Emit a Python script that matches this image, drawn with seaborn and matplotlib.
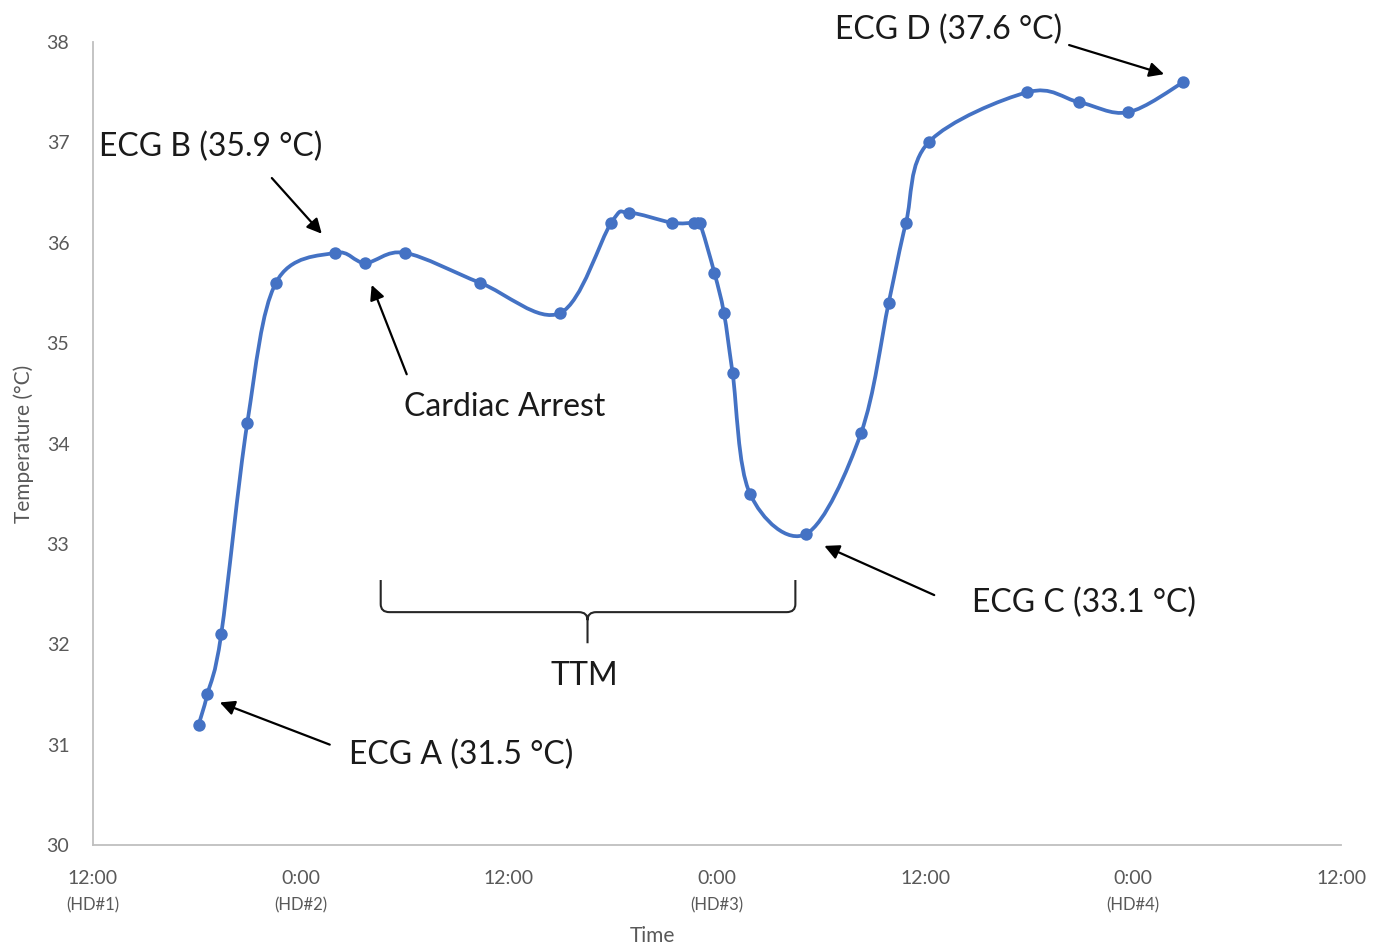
import numpy as np
import matplotlib
matplotlib.use("Agg")
import matplotlib.pyplot as plt
from matplotlib.path import Path
from matplotlib.patches import PathPatch
import seaborn as sns
import pandas as pd

# ---- data (hours since 12:00 of HD#1, temperature in °C) ----
hours = [6.1, 6.6, 7.4, 8.9, 10.55, 13.95, 15.7, 18.0, 22.35, 26.95, 29.9, 30.9,
         33.4, 34.7, 35.0, 35.85, 36.4, 36.9, 37.9, 41.15, 44.3, 45.9, 46.9, 48.2,
         53.9, 56.9, 59.7, 62.9]
temps = [31.2, 31.5, 32.1, 34.2, 35.6, 35.9, 35.8, 35.9, 35.6, 35.3, 36.2, 36.3,
         36.2, 36.2, 36.2, 35.7, 35.3, 34.7, 33.5, 33.1, 34.1, 35.4, 36.2, 37.0,
         37.5, 37.4, 37.3, 37.6]
tick_hours = [0, 12, 24, 36, 48, 60, 72]
tick_labels = ["12:00", "0:00", "12:00", "0:00", "12:00", "0:00", "12:00"]
day_hours = [0, 12, 36, 60]
day_labels = ["(HD#1)", "(HD#2)", "(HD#3)", "(HD#4)"]

df = pd.DataFrame({"hours": hours, "temp": temps})

sns.set_theme(style="white")
plt.rcParams["font.family"] = ["Lato", "DejaVu Sans"]

BLUE = "#4472C4"
GREY = "#595959"

fig = plt.figure(figsize=(13.85, 9.49), dpi=100)
ax = fig.add_axes([0.0671, 0.1096, 0.9012, 0.8461])

# smoothed line (Catmull-Rom style Bezier through the data points, like Excel)
P = np.column_stack([df["hours"].to_numpy(), df["temp"].to_numpy()])
verts = [P[0]]
codes = [Path.MOVETO]
n = len(P)
for i in range(n - 1):
    p0 = P[i - 1] if i > 0 else P[i]
    p1 = P[i]
    p2 = P[i + 1]
    p3 = P[i + 2] if i + 2 < n else P[i + 1]
    c1 = p1 + (p2 - p0) / 6.0
    c2 = p2 - (p3 - p1) / 6.0
    verts += [c1, c2, p2]
    codes += [Path.CURVE4] * 3
ax.add_patch(PathPatch(Path(verts, codes), fill=False, edgecolor=BLUE, lw=2.7,
                       capstyle="round", joinstyle="round", zorder=2))

sns.scatterplot(data=df, x="hours", y="temp", ax=ax, color=BLUE, s=80,
                edgecolor=BLUE, linewidth=0, zorder=3, legend=False)

ax.set_xlim(0, 72)
ax.set_ylim(30, 38)
ax.set_xticks(tick_hours)
ax.set_xticklabels(tick_labels)
ax.set_yticks(range(30, 39))
ax.tick_params(axis="both", length=0, labelsize=14, labelcolor=GREY)
ax.tick_params(axis="x", pad=18)
ax.tick_params(axis="y", pad=17)
for s in ["top", "right"]:
    ax.spines[s].set_visible(False)
for s in ["left", "bottom"]:
    ax.spines[s].set_color("#BFBFBF")
    ax.spines[s].set_linewidth(1.3)

for h, lab in zip(day_hours, day_labels):
    ax.annotate(lab, xy=(h, 0), xycoords=("data", "axes fraction"),
                xytext=(0, -60), textcoords="offset pixels", ha="center",
                va="center", fontsize=12, color=GREY)

ax.set_xlabel("Time", fontsize=15, color=GREY)
ax.set_ylabel("Temperature (°C)", fontsize=15, color=GREY)
ax.xaxis.set_label_coords(0.448, -0.101)
ax.yaxis.set_label_coords(-0.047, 0.5)

arrow = dict(arrowstyle="-|>", color="black", lw=1.6, mutation_scale=22,
             shrinkA=0, shrinkB=0)
TXT = dict(fontsize=23, color="#1a1a1a", ha="center", va="center")

ax.annotate("", xy=(7.32, 31.42), xytext=(13.66, 31.0), arrowprops=arrow)
ax.text(21.27, 30.9, "ECG A (31.5 °C)", **TXT)

ax.annotate("", xy=(13.2, 36.09), xytext=(10.32, 36.645), arrowprops=arrow)
ax.text(6.8, 36.95, "ECG B (35.9 °C)", **TXT)

ax.annotate("", xy=(16.08, 35.58), xytext=(18.1, 34.69), arrowprops=arrow)
ax.text(23.75, 34.36, "Cardiac Arrest", **TXT)

ax.annotate("", xy=(42.19, 32.98), xytext=(48.53, 32.49), arrowprops=arrow)
ax.text(57.18, 32.41, "ECG C (33.1 °C)", **TXT)

ax.annotate("", xy=(61.79, 37.68), xytext=(56.31, 37.97), arrowprops=arrow,
            annotation_clip=False)
ax.text(49.34, 38.12, "ECG D (37.6 °C)", clip_on=False, **TXT)

# TTM curly brace
xl, xr, xm = 16.6, 40.52, 28.53
yt, yb, ytip = 32.64, 32.32, 32.01
dx = 0.5
dy = 0.08
bverts = [
    (xl, yt), (xl, yb + dy), (xl, yb), (xl + dx, yb),
    (xm - dx, yb), (xm, yb), (xm, yb - dy),
    (xm, ytip),
    (xm, yb - dy), (xm, yb), (xm + dx, yb),
    (xr - dx, yb), (xr, yb), (xr, yb + dy),
    (xr, yt),
]
bcodes = [Path.MOVETO, Path.LINETO, Path.CURVE3, Path.CURVE3,
          Path.LINETO, Path.CURVE3, Path.CURVE3,
          Path.LINETO,
          Path.MOVETO, Path.CURVE3, Path.CURVE3,
          Path.LINETO, Path.CURVE3, Path.CURVE3,
          Path.LINETO]
ax.add_patch(PathPatch(Path(bverts, bcodes), fill=False, edgecolor="#262626",
                       lw=1.5))
ax.text(28.36, 31.68, "TTM", **TXT)

fig.savefig("out.png", dpi=100, facecolor="white")
